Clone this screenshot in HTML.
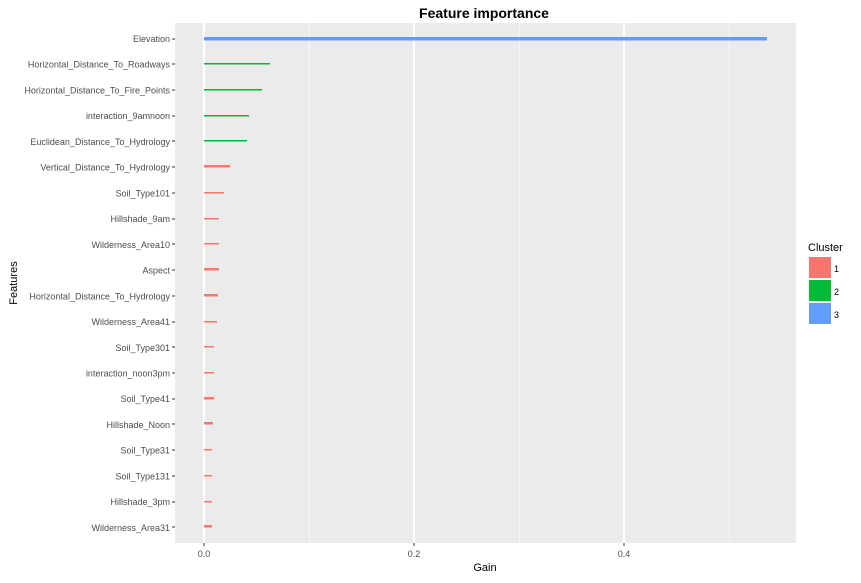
<!DOCTYPE html>
<html><head><meta charset="utf-8"><style>
body{margin:0;background:#fff;}
svg text{font-family:"Liberation Sans",sans-serif;}
</style></head><body>
<svg id="chart" width="861" height="578" xmlns="http://www.w3.org/2000/svg">
<rect width="861" height="578" fill="#fff"/>
<text x="484" y="18" text-anchor="middle" font-size="14" font-weight="bold" fill="#000">Feature importance</text>
<rect x="175" y="23" width="621" height="520" fill="#ebebeb"/>
<g id="grid" shape-rendering="crispEdges"></g><g id="bars" shape-rendering="crispEdges"></g><g id="yaxis"></g><g id="xaxis"></g>
<text x="485" y="571" text-anchor="middle" font-size="11" fill="#000">Gain</text>
<text transform="translate(17,283) rotate(-90)" text-anchor="middle" font-size="11" fill="#000">Features</text>
<g>
<text x="808" y="251" font-size="11" fill="#000">Cluster</text>
<rect x="809" y="257" width="22" height="21" fill="#f8766d"/>
<text x="834" y="272" font-size="9" fill="#000">1</text>
<rect x="809" y="280" width="22" height="21" fill="#00ba38"/>
<text x="834" y="295" font-size="9" fill="#000">2</text>
<rect x="809" y="303" width="22" height="21" fill="#619cff"/>
<text x="834" y="318" font-size="9" fill="#000">3</text>
</g>
</svg>
<script>
const features=["Elevation","Horizontal_Distance_To_Roadways","Horizontal_Distance_To_Fire_Points","interaction_9amnoon","Euclidean_Distance_To_Hydrology","Vertical_Distance_To_Hydrology","Soil_Type101","Hillshade_9am","Wilderness_Area10","Aspect","Horizontal_Distance_To_Hydrology","Wilderness_Area41","Soil_Type301","interaction_noon3pm","Soil_Type41","Hillshade_Noon","Soil_Type31","Soil_Type131","Hillshade_3pm","Wilderness_Area31"];
const gain=[0.536,0.063,0.055,0.043,0.041,0.025,0.019,0.014,0.014,0.014,0.013,0.012,0.0095,0.0095,0.0095,0.0086,0.0076,0.0076,0.0076,0.0076];
const cover=[0.3,0.1,0.1,0.1,0.1,0.2,0.1,0.1,0.1,0.2,0.2,0.1,0.1,0.1,0.2,0.2,0.1,0.1,0.1,0.2];
const cluster=[3,2,2,2,2,1,1,1,1,1,1,1,1,1,1,1,1,1,1,1];
const xTicks=[0,0.2,0.4];
const xMinor=[0.1,0.3,0.5];
const colors={1:"#f8766d",2:"#00ba38",3:"#619cff"};
const NS="http://www.w3.org/2000/svg";
const x=v=>204+v*1050;
const y=i=>38.5+i*25.73;
function mk(t,a,p){const e=document.createElementNS(NS,t);for(const k in a)e.setAttribute(k,a[k]);document.getElementById(p).appendChild(e);return e;}
xMinor.forEach(v=>{const e=mk("rect",{x:Math.round(x(v)),y:23,width:1,height:520,fill:"#f6f6f6"},"grid");

});
xTicks.forEach(v=>{const e=mk("rect",{x:Math.round(x(v))-1,y:23,width:2,height:520,fill:"#fff"},"grid");


const t=mk("rect",{x:Math.round(x(v))-0.5,y:543,width:1,height:3,fill:"#333"},"xaxis");


const l=mk("text",{x:x(v),y:557,"text-anchor":"middle","font-size":9,fill:"#4d4d4d"},"xaxis");l.textContent=v.toFixed(1);

});
features.forEach((f,i)=>{
const h=Math.max(1,Math.round(cover[i]*10));
const b=mk("rect",{x:x(0),y:Math.round(y(i))-Math.floor(h/2)-1,width:Math.round(x(gain[i])-x(0)),height:h+0.5,fill:colors[cluster[i]],"fill-opacity":1},"bars");


const t=mk("rect",{x:172,y:Math.round(y(i))-0.5,width:3,height:1,fill:"#333"},"yaxis");


const l=mk("text",{x:170,y:y(i)+3.5,"text-anchor":"end","font-size":9,fill:"#4d4d4d"},"yaxis");l.textContent=f;

});
</script>
</body></html>
